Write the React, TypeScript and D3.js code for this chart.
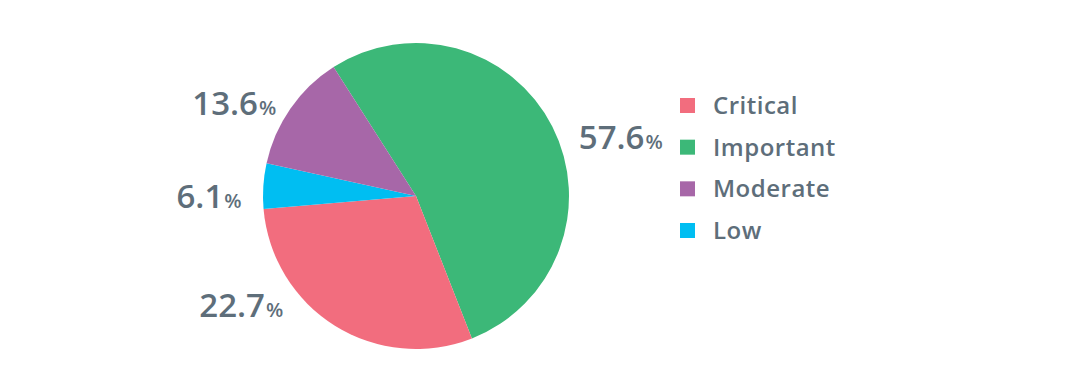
import React from "react";
import * as d3 from "d3";

// Legend order
const categories = ["Critical", "Important", "Moderate", "Low"];
const colors = ["#f26d7e", "#3cb878", "#a767a8", "#00bef2"];
// Slice sizes as drawn in the picture (share of the circle, %)
const sliceValues = [29.6, 53.1, 12.5, 4.8];
// Percent labels printed beside the pie
const labelNumbers = ["22.7", "57.6", "13.6", "6.1"];
// Clockwise drawing order of the slices (indexes into categories)
const drawOrder = [1, 0, 3, 2];

const W = 1080;
const H = 374;
const cx = 416;
const cy = 196;
const R = 153;
const startDeg = -32.6;
const labelRadii = [206, 213, 204, 207];
const labelAngles = [238, 74, 297, 270];
const textColor = "#5e6e7a";
const font = "'Open Sans', 'Noto Sans', sans-serif";

export default function App() {
  const items = drawOrder.map((i) => ({ i, v: sliceValues[i] }));
  const pie = d3
    .pie<{ i: number; v: number }>()
    .value((d) => d.v)
    .sort(null)
    .startAngle((startDeg * Math.PI) / 180)
    .endAngle(((startDeg + 360) * Math.PI) / 180);
  const arcs = pie(items);
  const arc = d3.arc<d3.PieArcDatum<{ i: number; v: number }>>().innerRadius(0).outerRadius(R);

  const legendY = d3.scalePoint<number>().domain(d3.range(categories.length)).range([105.5, 230.5]);

  return (
    <svg
      width={W}
      height={H}
      style={{ position: "absolute", left: 0, top: 0, display: "block", background: "#fff" }}
    >
      <g transform={`translate(${cx},${cy})`}>
        {arcs.map((a) => (
          <path key={a.data.i} d={arc(a) || ""} fill={colors[a.data.i]} />
        ))}
        {categories.map((c, i) => {
          const ang = (labelAngles[i] * Math.PI) / 180;
          const x = Math.sin(ang) * labelRadii[i];
          const y = -Math.cos(ang) * labelRadii[i];
          return (
            <text
              key={c}
              x={x}
              y={y + 12}
              textAnchor="middle"
              fill={textColor}
              fontFamily={font}
              fontWeight={600}
              fontSize={33}
            >
              {labelNumbers[i]}
              <tspan fontSize={20} dx={1}>%</tspan>
            </text>
          );
        })}
      </g>
      <g>
        {categories.map((c, i) => {
          const y = legendY(i) as number;
          return (
            <g key={c}>
              <rect x={680} y={y - 7.5} width={15} height={15} fill={colors[i]} />
              <text
                x={713}
                y={y + 8.5}
                fill={textColor}
                fontFamily={font}
                fontWeight={600}
                fontSize={24}
                letterSpacing={0.5}
              >
                {c}
              </text>
            </g>
          );
        })}
      </g>
    </svg>
  );
}
